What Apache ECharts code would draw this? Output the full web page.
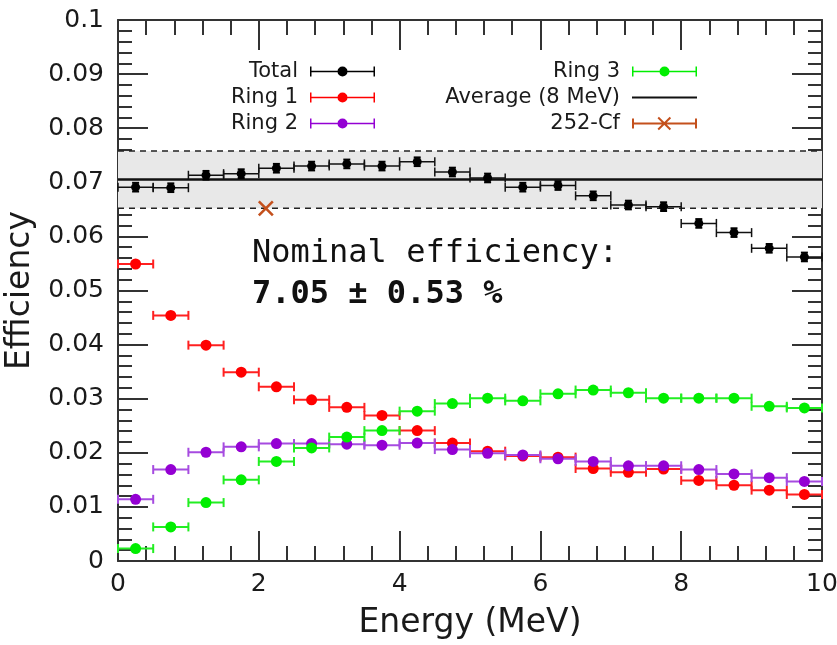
<!DOCTYPE html>
<html>
<head>
<meta charset="utf-8">
<script src="https://cdn.jsdelivr.net/npm/echarts@6/dist/echarts.min.js"></script>
<style>
  html, body { margin: 0; padding: 0; background: #ffffff; }
  #chart { width: 837px; height: 645px; }
</style>
</head>
<body>
<div id="chart"></div>
<script>
// Energy bin centres (MeV); every bin is 0.5 MeV wide
const energy = [0.25, 0.75, 1.25, 1.75, 2.25, 2.75, 3.25, 3.75, 4.25, 4.75,
                5.25, 5.75, 6.25, 6.75, 7.25, 7.75, 8.25, 8.75, 9.25, 9.75];
const binHalfWidth = 0.25;

// Detection efficiency per bin
const total = [0.0691, 0.0690, 0.0713, 0.0716, 0.0726, 0.0730, 0.0734, 0.0730, 0.0738, 0.0719,
               0.0708, 0.0691, 0.0694, 0.0675, 0.0658, 0.0655, 0.0624, 0.0607, 0.0578, 0.0562];
const totalErr = [0.0008, 0.0008, 0.0008, 0.0008, 0.0008, 0.0008, 0.0008, 0.0008, 0.0008, 0.0008,
                  0.0008, 0.0008, 0.0008, 0.0008, 0.0008, 0.0008, 0.0008, 0.0008, 0.0008, 0.0008];
const ring1 = [0.0549, 0.0454, 0.0399, 0.0349, 0.0322, 0.0298, 0.0284, 0.0269, 0.0241, 0.0218,
               0.0203, 0.0194, 0.0192, 0.0171, 0.0164, 0.0170, 0.0149, 0.0140, 0.0131, 0.0123];
const ring2 = [0.0114, 0.0169, 0.0201, 0.0211, 0.0217, 0.0217, 0.0216, 0.0214, 0.0218, 0.0206,
               0.0199, 0.0196, 0.0189, 0.0184, 0.0176, 0.0176, 0.0169, 0.0161, 0.0154, 0.0147];
const ring3 = [0.0023, 0.0063, 0.0108, 0.0150, 0.0184, 0.0209, 0.0229, 0.0241, 0.0277, 0.0291,
               0.0301, 0.0296, 0.0309, 0.0316, 0.0311, 0.0301, 0.0301, 0.0301, 0.0286, 0.0283];

// Average over 0-8 MeV and its uncertainty band
const averageEff = 0.0705;
const averageErr = 0.0053;

// 252-Cf source measurement: [energy, efficiency]
const cf252 = [[2.1, 0.0652]];

const legendLeftNames = ['Total', 'Ring 1', 'Ring 2'];
const legendRightNames = ['Ring 3', 'Average (8 MeV)', '252-Cf'];

// Legend glyphs, all on a 65 x 14 box
const BOX = 'M0 0M65 14';
const barIcon = 'path://' + BOX +
  'M0 2h1.5v10H0zM63.5 2H65v10h-1.5zM0 6.25h65v1.5H0z' +
  'M27.5 7a5 5 0 1 1 10 0a5 5 0 1 1 -10 0z';
const lineIcon = 'path://' + BOX + 'M0 6h65v2H0z';
const crossIcon = 'path://' + BOX +
  'M0 2h2v10H0zM63 2H65v10h-2zM0 6h65v2H0z' +
  'M26.9 0.3L39.1 12.3L37.7 13.7L25.5 1.7z' +
  'M25.5 12.3L37.7 0.3L39.1 1.7L26.9 13.7z';

const FONT = 'DejaVu Sans';
const MONO = 'DejaVu Sans Mono';
const AXIS_COLOR = '#333333';

function binSeries(name, values, dotColor, barColor, dotR, lineW, errs) {
  return {
    type: 'custom',
    name: name,
    coordinateSystem: 'cartesian2d',
    itemStyle: { color: dotColor },
    data: energy.map((e, i) => [e, values[i], errs ? errs[i] : 0]),
    encode: { x: 0, y: 1 },
    renderItem: function (params, api) {
      const x = api.value(0), y = api.value(1), ey = api.value(2);
      const c = api.coord([x, y]);
      const l = api.coord([x - binHalfWidth, y]);
      const r = api.coord([x + binHalfWidth, y]);
      const cap = 4.5;
      const st = { stroke: barColor, lineWidth: lineW };
      const ch = [
        { type: 'line', shape: { x1: l[0], y1: l[1], x2: r[0], y2: r[1] }, style: st },
        { type: 'line', shape: { x1: l[0], y1: l[1] - cap, x2: l[0], y2: l[1] + cap }, style: st },
        { type: 'line', shape: { x1: r[0], y1: r[1] - cap, x2: r[0], y2: r[1] + cap }, style: st }
      ];
      if (ey > 0) {
        const t = api.coord([x, y + ey]);
        const b = api.coord([x, y - ey]);
        const vs = { stroke: dotColor, lineWidth: 2 };
        ch.push({ type: 'line', shape: { x1: t[0], y1: t[1], x2: b[0], y2: b[1] }, style: vs });
        ch.push({ type: 'line', shape: { x1: t[0] - 3.5, y1: t[1], x2: t[0] + 3.5, y2: t[1] }, style: vs });
        ch.push({ type: 'line', shape: { x1: b[0] - 3.5, y1: b[1], x2: b[0] + 3.5, y2: b[1] }, style: vs });
      }
      ch.push({ type: 'circle', shape: { cx: c[0], cy: c[1], r: dotR }, style: { fill: dotColor } });
      return { type: 'group', children: ch };
    }
  };
}

const averageSeries = {
  type: 'custom',
  name: 'Average (8 MeV)',
  coordinateSystem: 'cartesian2d',
  itemStyle: { color: '#111111' },
  data: [[averageEff, averageErr]],
  renderItem: function (params, api) {
    const cs = params.coordSys;
    const v = api.value(0), e = api.value(1);
    const yHi = api.coord([0, v + e])[1];
    const yLo = api.coord([0, v - e])[1];
    const yMid = api.coord([0, v])[1];
    const x0 = cs.x, x1 = cs.x + cs.width;
    const dash = { stroke: '#222222', lineWidth: 1.5, lineDash: [6, 5] };
    return {
      type: 'group',
      children: [
        { type: 'rect', shape: { x: x0, y: yHi, width: cs.width, height: yLo - yHi }, style: { fill: '#e8e8e8' } },
        { type: 'line', shape: { x1: x0, y1: yHi, x2: x1, y2: yHi }, style: dash },
        { type: 'line', shape: { x1: x0, y1: yLo, x2: x1, y2: yLo }, style: dash },
        { type: 'line', shape: { x1: x0, y1: yMid, x2: x1, y2: yMid }, style: { stroke: '#111111', lineWidth: 2.5 } }
      ]
    };
  }
};

const cfSeries = {
  type: 'custom',
  name: '252-Cf',
  coordinateSystem: 'cartesian2d',
  itemStyle: { color: '#c4501c' },
  data: cf252,
  encode: { x: 0, y: 1 },
  renderItem: function (params, api) {
    const c = api.coord([api.value(0), api.value(1)]);
    const s = 7;
    const st = { stroke: '#c4501c', lineWidth: 2.5 };
    return {
      type: 'group',
      children: [
        { type: 'line', shape: { x1: c[0] - s, y1: c[1] - s, x2: c[0] + s, y2: c[1] + s }, style: st },
        { type: 'line', shape: { x1: c[0] - s, y1: c[1] + s, x2: c[0] + s, y2: c[1] - s }, style: st }
      ]
    };
  }
};

function legendBlock(names, icons, right) {
  return {
    orient: 'vertical',
    right: right,
    top: 61,
    align: 'right',
    padding: 0,
    itemWidth: 65,
    itemHeight: 14,
    itemGap: 5,
    selectedMode: false,
    itemStyle: { borderWidth: 0 },
    textStyle: { fontFamily: FONT, fontSize: 21, color: '#1a1a1a', lineHeight: 20, padding: [0, 7, 0, 0] },
    data: names.map((n, i) => ({ name: n, icon: icons[i] }))
  };
}

const tickFmt = v => String(+(+v).toFixed(3));

function makeX(pos, showLabel) {
  return {
    type: 'value', position: pos, min: 0, max: 10, interval: 2,
    name: showLabel ? 'Energy (MeV)' : '',
    nameLocation: 'middle', nameGap: 46,
    nameTextStyle: { fontFamily: FONT, fontSize: 33, color: '#1a1a1a' },
    axisLine: { show: true, onZero: false, lineStyle: { color: AXIS_COLOR, width: 2 } },
    axisTick: { show: true, inside: true, length: 30, lineStyle: { color: AXIS_COLOR, width: 2 } },
    minorTick: { show: true, splitNumber: 5, length: 15, lineStyle: { color: AXIS_COLOR, width: 2 } },
    axisLabel: { show: showLabel, margin: 11, fontFamily: FONT, fontSize: 25, color: '#1a1a1a', formatter: tickFmt },
    splitLine: { show: false }, minorSplitLine: { show: false }
  };
}

function makeY(pos, showLabel) {
  return {
    type: 'value', position: pos, min: 0, max: 0.1, interval: 0.01,
    name: showLabel ? 'Efficiency' : '',
    nameLocation: 'middle', nameGap: 81, nameRotate: 90,
    nameTextStyle: { fontFamily: FONT, fontSize: 33, color: '#1a1a1a' },
    axisLine: { show: true, onZero: false, lineStyle: { color: AXIS_COLOR, width: 2 } },
    axisTick: { show: true, inside: true, length: 30, lineStyle: { color: AXIS_COLOR, width: 2 } },
    minorTick: { show: true, splitNumber: 5, length: 14, lineStyle: { color: AXIS_COLOR, width: 2 } },
    axisLabel: { show: showLabel, margin: 14, fontFamily: FONT, fontSize: 25, color: '#1a1a1a', formatter: tickFmt },
    splitLine: { show: false }, minorSplitLine: { show: false }
  };
}

const chart = echarts.init(document.getElementById('chart'), null, { renderer: 'canvas' });
chart.setOption({
  backgroundColor: '#ffffff',
  animation: false,
  grid: { left: 118, right: 15, top: 20, bottom: 84, containLabel: false, outerBoundsMode: 'none' },
  xAxis: [makeX('bottom', true), makeX('top', false)],
  yAxis: [makeY('left', true), makeY('right', false)],
  legend: [
    legendBlock(legendLeftNames, [barIcon, barIcon, barIcon], 462),
    legendBlock(legendRightNames, [barIcon, lineIcon, crossIcon], 140)
  ],
  graphic: [
    {
      type: 'text', left: 252, top: 238, silent: true,
      style: { text: 'Nominal efficiency:', fontFamily: MONO, fontSize: 32, fill: '#111111' }
    },
    {
      type: 'text', left: 252, top: 279, silent: true,
      style: { text: '7.05 \u00b1 0.53 %', fontFamily: MONO, fontSize: 32, fontWeight: 'bold', fill: '#111111' }
    }
  ],
  series: [
    averageSeries,
    binSeries('Total', total, '#000000', '#111111', 4.5, 1.5, totalErr),
    binSeries('Ring 1', ring1, '#ff0000', '#ff2020', 5.5, 2, null),
    binSeries('Ring 2', ring2, '#9400d3', '#a64be0', 5.5, 2, null),
    binSeries('Ring 3', ring3, '#00ee00', '#22ee22', 5.5, 2, null),
    cfSeries
  ]
});
</script>
</body>
</html>
